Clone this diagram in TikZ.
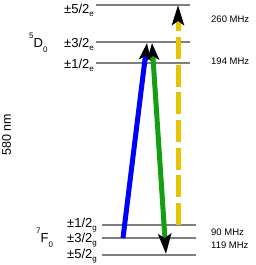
\documentclass[tikz,border=0pt]{standalone}
\usepackage{fontspec}
\setmainfont{Liberation Sans}
\usetikzlibrary{arrows.meta}
\definecolor{lvl}{HTML}{7F7F7F}
\definecolor{beamblue}{HTML}{0000FF}
\definecolor{beamgreen}{HTML}{12A012}
\definecolor{beamyellow}{HTML}{E6C400}
\newcommand\myup[1]{\raisebox{9pt}{\fontsize{8}{8}\selectfont #1}}
\newcommand\mydn[1]{\raisebox{-3pt}{\fontsize{8}{8}\selectfont #1}}
\newcommand\mydnn[1]{\raisebox{-5pt}{\fontsize{8}{8}\selectfont #1}}
\begin{document}
\begin{tikzpicture}[x=1pt,y=-1pt,
  level/.style={draw=lvl,line width=1.2pt},
  lab/.style={inner sep=0pt,anchor=base east,font=\fontsize{13}{14}\selectfont},
  term/.style={inner sep=0pt,anchor=base west,font=\fontsize{13}{14}\selectfont},
  freq/.style={inner sep=0pt,anchor=base west,font=\fontsize{9.5}{11}\selectfont},
  beam/.style={line width=5pt,line cap=butt,-{Stealth[length=17pt,width=12pt,inset=4pt,color=black]}},
  dbeam/.style={line width=5pt,line cap=butt,{Stealth[length=17pt,width=12pt,inset=4pt,color=black]}-{Stealth[length=20pt,width=13pt,inset=4pt,color=black]}}]
\useasboundingbox (0,0) rectangle (256,265);
% level lines
\coordinate (e5l) at (96,5);   \coordinate (e5r) at (190,5);
\coordinate (e3l) at (96,42);  \coordinate (e3r) at (190,42);
\coordinate (e1l) at (96,63);  \coordinate (e1r) at (190,63);
\coordinate (g1l) at (102,225); \coordinate (g1r) at (196,225);
\coordinate (g3l) at (102,238); \coordinate (g3r) at (196,238);
\coordinate (g5l) at (102,255); \coordinate (g5r) at (196,255);
\draw[level] (e5l) -- (e5r);
\draw[level] (e3l) -- (e3r);
\draw[level] (e1l) -- (e1r);
\draw[level] (g1l) -- (g1r);
\draw[level] (g3l) -- (g3r);
\draw[level] (g5l) -- (g5r);
% level labels
\node[lab] (le5) at (94,13) {±5/2\mydn{e}};
\node[lab] (le3) at (94,47) {±3/2\mydn{e}};
\node[lab] (le1) at (94,68) {±1/2\mydn{e}};
\node[lab] (lg1) at (97,227) {±1/2\mydn{g}};
\node[lab] (lg3) at (97,242) {±3/2\mydn{g}};
\node[lab] (lg5) at (97,258.5) {±5/2\mydn{g}};
\node[term] (tD) at (29,47) {\myup{5}D\mydnn{0}};
\node[term] (tF) at (36,242) {\myup{7}F\mydnn{0}};
% frequencies
\node[freq] (f260) at (211,22.5) {260 MHz};
\node[freq] (f194) at (211,64.5) {194 MHz};
\node[freq] (f90) at (211,235.5) {90 MHz};
\node[freq] (f119) at (211,248.5) {119 MHz};
% wavelength
\node[inner sep=0pt,rotate=90,font=\fontsize{12.5}{14}\selectfont] (wl) at (6.5,135) {580 nm};
% beams
\coordinate (bB) at (123,238); \coordinate (bT) at (147,43);
\coordinate (gT) at (152,43);  \coordinate (gB) at (166,254);
\coordinate (yB) at (178,225); \coordinate (yT) at (178,5);
\draw[beam,draw=beamblue] (bB) -- (bT);
\draw[dbeam,draw=beamgreen] (gT) -- (gB);
\draw[line width=5pt,line cap=butt,draw=beamyellow,dash pattern=on 22pt off 5.7pt,-{Stealth[length=20pt,width=12pt,inset=4pt,color=black]}] (yB) -- (yT);
\end{tikzpicture}
\end{document}
